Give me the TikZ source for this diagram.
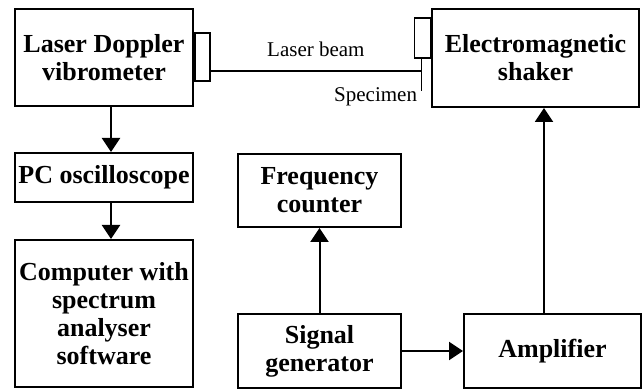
\documentclass[tikz,border=0pt]{standalone}
\usepackage{fontspec}
\setmainfont{Liberation Serif}
\usetikzlibrary{arrows.meta}

\begin{document}
\begin{tikzpicture}[x=1pt,y=-1pt,>={Triangle[length=14pt,width=18pt]},line width=2pt]
        \tikzset{blk/.style={draw, rectangle, inner sep=0pt, align=center, font=\fontsize{26}{28}\selectfont\bfseries},
                 lens/.style={draw, rectangle, inner sep=0pt, line width=1.5pt},
                 lbl/.style={inner sep=0pt, font=\fontsize{21}{24}\selectfont}}
        \useasboundingbox (0,0) rectangle (643,390);
        \node (ldv) [blk, minimum width=178pt, minimum height=97pt] at (104,57.5) {Laser Doppler\\vibrometer};
        \node (shaker) [blk, minimum width=207pt, minimum height=98pt] at (535.5,58) {Electromagnetic\\shaker};
        \node (pc) [blk, minimum width=178pt, minimum height=49pt] at (104,177.5) {PC oscilloscope};
        \node (comp) [blk, minimum width=178pt, minimum height=147pt] at (104,313.5) {Computer with\\spectrum\\analyser\\software};
        \node (freq) [blk, minimum width=163pt, minimum height=73pt] at (319.5,190.5) {Frequency\\counter};
        \node (sig) [blk, minimum width=163pt, minimum height=74pt] at (319.5,351) {Signal\\generator};
        \node (amp) [blk, minimum width=177pt, minimum height=74pt] at (552.5,351) {Amplifier};
        % lenses, beam and specimen
        \node (lensa) [lens, minimum width=15pt, minimum height=48pt, anchor=west] at (ldv.east |- 0,57) {};
        \node (lensb) [lens, minimum width=16pt, minimum height=40pt, anchor=east] at (shaker.west |- 0,38) {};
        \coordinate (spectop) at ([xshift=-1pt]lensb.south);
        \coordinate (specbot) at ([yshift=-32pt]spectop);
        \draw[line width=1.5pt] (spectop) -- (specbot);
        \draw[line width=1.2pt] (lensa.east |- 0,71) -- node[lbl, above=14pt] {Laser beam} (spectop |- 0,71);
        \node (spec) [lbl, anchor=east] at (418,97) {Specimen};

        \draw[->] ([xshift=7pt]ldv.south) -- ([xshift=7pt]pc.north);
        \draw[->] ([xshift=7pt]pc.south) -- ([xshift=7pt]comp.north);
        \draw[->] (sig) -- (freq);
        \draw[->] (sig) -- (amp);
        \draw[->] ([xshift=-8.5pt]amp.north) -- ([xshift=8.5pt]shaker.south);
    \end{tikzpicture}
\end{document}
